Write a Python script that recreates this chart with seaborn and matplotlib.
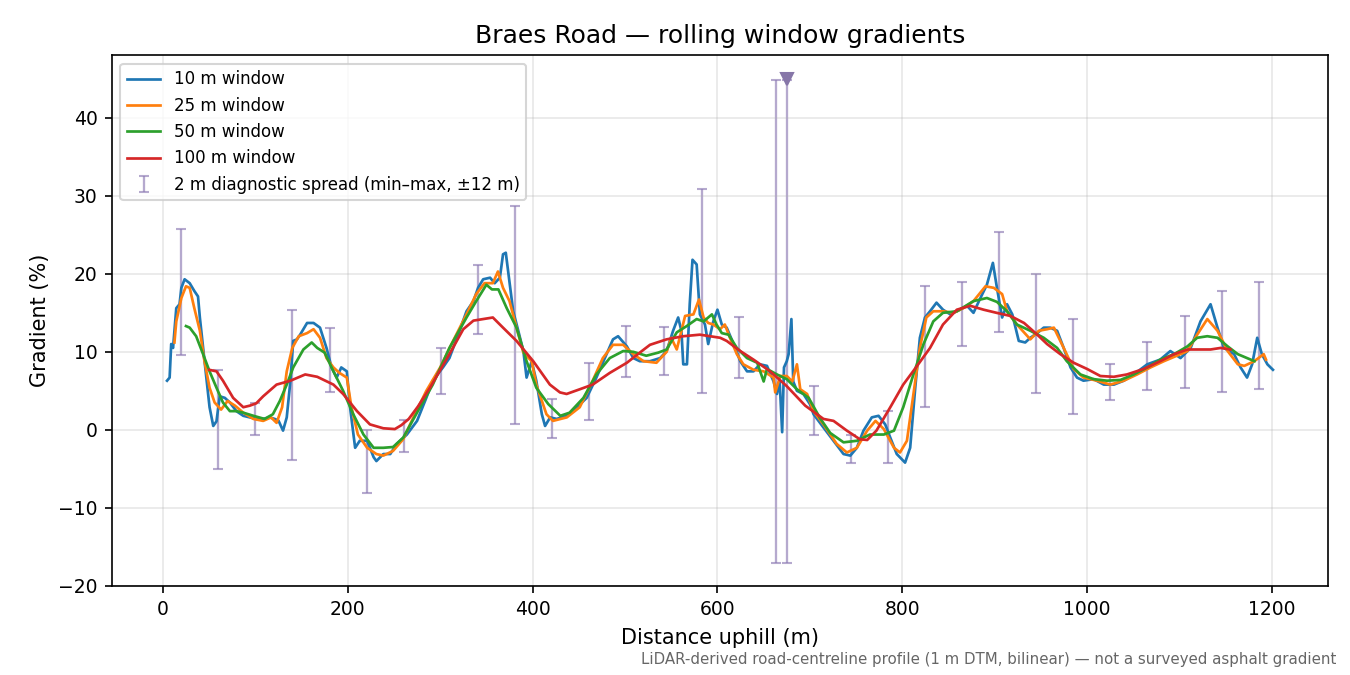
import matplotlib
matplotlib.use("Agg")
import matplotlib.pyplot as plt
import seaborn as sns
import pandas as pd

# ---------------- data ----------------
w10_x = [4.5, 7.3, 9, 11, 14.5, 18, 20, 23.5, 29, 34, 38, 40, 43.5, 47, 50.5, 54.5, 58, 61.5, 67, 72.5,
         79.5, 87, 94, 101, 108.5, 115.5, 121, 125, 130, 134, 138, 141, 145, 148.5, 156, 163, 170, 177,
         182.5, 188, 193, 199, 202.5, 208, 213, 221, 228, 231, 238.5, 246, 253, 264, 275, 285, 292, 303,
         310, 321, 328.5, 336, 341, 346.5, 354, 359, 364.6, 368, 371, 374, 379, 384.5, 390, 393.5, 399,
         404, 410, 413.5, 419, 426, 437, 448, 458.5, 469, 480, 487, 492.5, 502, 509, 516, 527, 538, 545,
         552, 557.5, 561, 563, 567, 570, 573, 577.5, 581, 586.5, 590, 595.5, 600, 604.7, 610, 617.5,
         624.7, 632, 639, 646, 653.6, 660.7, 664.4, 667.3, 670, 672, 675, 677, 680, 682, 686, 693, 700,
         704, 714.7, 725.6, 736.4, 743.8, 750.8, 758, 767, 774.3, 781.5, 787, 794, 803, 808.5, 814, 819,
         824.5, 830, 837, 844, 852, 859, 870, 877, 884.5, 891.5, 898, 902.4, 908, 913.3, 919, 926, 933,
         938.5, 946, 953, 960, 967.5, 974.6, 982, 989, 996, 1007, 1018, 1029, 1039.6, 1050.4, 1065, 1079,
         1090, 1101, 1112, 1122.6, 1133.5, 1141, 1148, 1159, 1166, 1173, 1178.5, 1184, 1189, 1195, 1201]
w10_y = [6.3, 6.7, 11.0, 10.5, 15.6, 16.1, 18.2, 19.3, 18.8, 17.8, 17.1, 14.4, 10.5, 6.7, 2.9, 0.5, 1.1, 4.3, 4.1, 3.5,
         2.4, 1.8, 1.6, 1.4, 1.4, 1.6, 1.4, 1.2, -0.1, 1.6, 6.3, 11.4, 11.6, 12.2, 13.7, 13.7, 13.1, 10.5,
         8.0, 6.7, 8.0, 7.5, 2.9, -2.3, -1.4, -1.4, -3.5, -4.0, -3.1, -3.1, -1.8, -0.6, 1.15, 4.1, 6.3, 8.0,
         9.2, 12.7, 15.2, 16.5, 18.2, 19.3, 19.5, 18.8, 19.5, 22.5, 22.7, 19.9, 15.2, 12.7, 10.1, 6.7, 8.8,
         6.3, 2.0, 0.5, 1.6, 1.4, 1.8, 2.9, 4.1, 6.7, 9.7, 11.6, 12.0, 10.7, 9.2, 8.8, 8.8, 9.2, 10.1,
         12.7, 14.4, 12.7, 8.4, 8.4, 16.1, 21.8, 21.2, 14.8, 13.5, 11.0, 13.9, 15.4, 13.5, 13.1, 11.0,
         8.8, 7.5, 7.5, 8.4, 8.2, 6.2, 4.6, 6.2, -0.3, 8.0, 8.8, 9.7, 14.2, 6.2, 5.0, 4.6, 3.3,
         2.0, 0.3, -1.4, -3.1, -3.3, -2.3, -0.1, 1.6, 1.8, 0.7, -1.0, -3.1, -4.2, -2.3, 5.4, 11.8,
         14.4, 15.2, 16.3, 15.4, 14.8, 15.2, 15.9, 15.0, 16.9, 18.6, 21.4, 18.2, 14.4, 16.1, 14.8, 11.4, 11.2,
         11.8, 12.4, 13.1, 13.1, 12.7, 10.5, 8.0, 6.7, 6.3, 6.5, 5.8, 5.8, 6.3, 7.1, 8.4, 9.0,
         10.1, 9.2, 10.5, 13.9, 16.1, 13.1, 10.5, 9.7, 8.0, 6.7, 8.4, 11.8, 9.7, 8.4, 7.7]

w25_x = [12.5, 14.5, 20, 25, 29, 34, 40, 45, 50.5, 56, 63, 70, 78, 87, 98, 108.5, 117, 123, 129, 134, 140,
         147, 156, 163, 170, 177, 184.5, 191, 199, 204, 211, 221, 231, 238.5, 249, 260, 271, 285, 300, 314,
         328.5, 339, 348, 357, 362.5, 368, 375, 382.6, 390, 399, 404, 415, 422, 437, 451, 465, 476, 487,
         498, 509, 520, 534, 545, 550, 556, 565, 574, 580, 585, 590, 595.5, 602.8, 608, 613.5, 621, 628,
         639, 650, 660.7, 662.5, 668, 675, 681, 686, 689.6, 697, 704, 714.7, 729, 740, 750.8, 762, 771,
         780, 791, 797.5, 805, 812, 819, 826, 833.5, 844, 855.5, 866, 877, 890, 899, 908, 913.3, 924,
         938.5, 947.7, 956.6, 964, 974.6, 985.4, 996, 1010.7, 1025, 1039.6, 1054, 1068.5, 1083, 1097,
         1108.5, 1119, 1130, 1141, 1152, 1163, 1170, 1180.8, 1191, 1193.5]
w25_y = [11.2, 13.9, 16.9, 18.4, 18.2, 15.6, 12.7, 8.8, 5.4, 3.5, 2.6, 3.7, 3.1, 2.2, 1.4, 1.15, 1.6, 0.9, 2.9, 7.5, 10.5,
         12.0, 12.4, 12.9, 11.8, 9.2, 8.0, 7.3, 6.7, 2.9, -0.6, -2.3, -3.1, -3.3, -2.7, -1.2, 1.6, 5.0, 8.0, 11.4,
         14.8, 17.4, 18.8, 18.8, 20.3, 18.2, 16.5, 13.1, 9.9, 8.8, 5.8, 2.0, 1.15, 1.6, 2.9, 6.3, 9.2, 10.9,
         10.9, 9.7, 8.8, 8.6, 10.0, 11.8, 10.3, 14.6, 14.8, 16.7, 14.4, 13.7, 13.5, 12.9, 13.5, 11.8, 9.7, 8.4,
         7.7, 7.5, 6.7, 4.8, 6.9, 6.9, 6.2, 8.4, 5.2, 4.6, 2.4, 0.7, -1.8, -2.9, -2.3, -0.1, 1.15,
         0.1, -2.3, -2.9, -1.4, 4.6, 10.5, 14.4, 15.2, 15.2, 15.0, 15.6, 16.5, 18.4, 18.2, 17.4, 15.2, 13.5,
         11.6, 12.7, 12.9, 13.1, 10.5, 7.8, 6.7, 6.3, 5.8, 6.3, 7.1, 8.0, 8.8, 9.5,
         10.1, 12.2, 14.2, 12.7, 10.1, 8.4, 8.2, 8.8, 9.7, 9.0]

w50_x = [25, 29, 36, 43.5, 50.5, 58, 65, 72.5, 79.5, 87, 98, 110, 119, 126.5, 134, 141, 152, 161, 167, 175,
         184.5, 195, 206, 217, 228, 238.5, 249, 260, 274, 292, 310, 328.5, 339, 350, 356, 363, 372, 382.6,
         393.5, 404, 417, 430, 440, 455, 469, 483.5, 498, 509, 523, 536, 545, 556, 566.7, 577.5, 585, 594,
         599, 604.7, 612, 621, 632, 643, 650, 653.6, 664.4, 675, 686, 698.7, 711, 722, 736.4, 750.8, 765,
         780, 791, 801, 812, 823, 833.5, 844, 859, 877, 891.5, 902.4, 913.3, 924, 938.5, 953, 967.5, 978,
         992.7, 1007, 1021.5, 1036, 1050.4, 1065, 1079, 1094, 1108.5, 1119, 1130, 1141, 1152, 1163, 1173, 1181]
w50_y = [13.3, 13.1, 12.0, 9.7, 7.5, 5.4, 3.5, 2.4, 2.4, 2.2, 1.8, 1.4, 2.0, 3.7, 5.8, 8.0, 10.3, 11.2, 10.5, 9.9,
         7.5, 5.0, 2.0, -0.6, -2.3, -2.3, -2.2, -1.0, 2.0, 5.8, 10.5, 14.4, 16.5, 18.6, 18.0, 18.0, 15.6, 13.1,
         8.8, 5.4, 3.3, 1.8, 2.2, 4.1, 7.1, 9.2, 10.1, 10.0, 9.5, 9.9, 10.3, 12.5, 13.3, 14.2, 13.9, 14.8,
         13.5, 12.4, 12.2, 10.5, 9.2, 8.6, 6.2, 7.8, 7.1, 6.5, 5.2, 4.1, 1.5, -0.4, -1.6, -1.4, -0.6,
         -0.6, -0.1, 2.9, 7.1, 11.0, 13.9, 15.0, 15.2, 16.5, 16.9, 16.4, 15.2, 13.5, 12.7, 11.8, 10.5, 8.8,
         7.1, 6.5, 6.3, 6.4, 7.1, 8.0, 9.0, 9.7, 10.7, 11.8, 12.0, 11.8, 10.7, 9.7, 9.2, 8.8]

w100_x = [50, 58, 65, 76, 87, 94, 101, 108.5, 123, 138, 154, 167, 184.5, 195, 210, 224, 238.5, 251, 258, 266,
          276, 289, 310, 325, 336, 346.5, 357, 368, 382.6, 400.7, 418.7, 429.6, 436.8, 451, 465, 483.5,
          502, 516, 527, 545, 563, 581, 592, 603, 610, 624.7, 639, 657, 675, 695, 714.7, 725.6, 740, 754,
          762, 772, 787, 801, 816, 830, 844, 859, 873.5, 888, 902, 917, 931.7, 946, 956.6, 971, 985.4,
          1000, 1014.3, 1028.8, 1043, 1061, 1079, 1094, 1108.5, 1122.6, 1133.5, 1144.4, 1155]
w100_y = [7.7, 7.5, 6.3, 4.1, 2.9, 3.1, 3.4, 4.3, 5.8, 6.3, 7.1, 6.8, 5.8, 4.6, 2.4, 0.7, 0.2, 0.1, 0.6, 1.4,
          3.0, 5.4, 9.7, 12.9, 14.0, 14.2, 14.4, 13.1, 11.4, 8.8, 5.8, 4.8, 4.6, 5.2, 5.8, 7.3,
          8.6, 9.9, 10.9, 11.6, 12.0, 12.2, 12.0, 11.8, 11.4, 10.1, 9.0, 7.5, 5.6, 3.1, 1.4, 1.15, -0.1, -1.2,
          -1.3, -0.1, 2.9, 5.8, 8.2, 10.5, 13.5, 15.4, 15.9, 15.4, 15.0, 14.6, 13.7, 12.2, 11.0, 9.7, 8.6,
          7.8, 6.9, 6.8, 7.1, 7.8, 8.8, 9.7, 10.3, 10.3, 10.3, 10.5, 10.3]

spread_x = [20, 60, 100, 140, 181, 221, 261, 301, 341, 381, 421, 461, 501, 542, 583, 623, 663, 675,
            704, 744, 784, 825, 865, 905, 945, 985, 1025, 1065, 1106, 1146, 1186]
spread_lo = [9.6, -5.0, -0.6, -3.9, 4.9, -8.1, -2.8, 4.6, 12.3, 0.7, -1.0, 1.3, 6.8, 7.0, 4.7, 6.6, -17.1, -17.1,
             -0.6, -4.3, -4.3, 2.9, 10.7, 12.6, 4.7, 2.0, 3.8, 5.1, 5.4, 4.9, 5.3]
spread_hi = [25.8, 7.7, 3.4, 15.4, 13.1, 0.0, 1.3, 10.5, 21.1, 28.7, 3.9, 8.6, 13.3, 13.2, 30.9, 14.5, 44.9, 44.9,
             5.6, -0.7, 2.4, 18.5, 19.0, 25.4, 20.0, 14.2, 8.5, 11.2, 14.6, 17.8, 18.9]
clip_x = [675]
clip_y = [45.0]

series_labels = ["10 m window", "25 m window", "50 m window", "100 m window"]
spread_label = "2 m diagnostic spread (min\u2013max, \u00b112 m)"
title = "Braes Road \u2014 rolling window gradients"
xlabel = "Distance uphill (m)"
ylabel = "Gradient (%)"
footnote = "LiDAR-derived road-centreline profile (1 m DTM, bilinear) \u2014 not a surveyed asphalt gradient"

# ---------------- plotting ----------------
plt.rcParams['font.family'] = ['DejaVu Sans']
fig = plt.figure(figsize=(9, 4.5), dpi=150)
ax = fig.add_axes([0.083, 0.132, 0.901, 0.786])

colors = ['#1f77b4', '#ff7f0e', '#2ca02c', '#d62728']
xs = [w10_x, w25_x, w50_x, w100_x]
ys = [w10_y, w25_y, w50_y, w100_y]
for x, y, c, lab in zip(xs, ys, colors, series_labels):
    df = pd.DataFrame({"d": x, "g": y})
    sns.lineplot(data=df, x="d", y="g", ax=ax, color=c, linewidth=1.3, label=lab,
                 sort=False, estimator=None)

mid = [(a + b) / 2 for a, b in zip(spread_lo, spread_hi)]
half = [(b - a) / 2 for a, b in zip(spread_lo, spread_hi)]
ax.errorbar(spread_x, mid, yerr=half, fmt='none', ecolor='#8e7cb4', alpha=0.65,
            elinewidth=1.1, capsize=2.5, capthick=1.0, label=spread_label, zorder=1)
ax.plot(clip_x, clip_y, marker='v', linestyle='none', color='#8676a8', markersize=5.5, zorder=3)

h, l = ax.get_legend_handles_labels()
order = [l.index(s) for s in series_labels] + [l.index(spread_label)]
ax.legend([h[i] for i in order], [l[i] for i in order], loc='upper left', fontsize=8)

ax.set_xlim(-55, 1261)
ax.set_ylim(-20, 48)
ax.set_yticks([-20, -10, 0, 10, 20, 30, 40])
ax.set_xticks([0, 200, 400, 600, 800, 1000, 1200])
ax.grid(True, alpha=0.3)
ax.set_title(title, fontsize=12)
ax.set_xlabel(xlabel, fontsize=10)
ax.set_ylabel(ylabel, fontsize=10)
ax.tick_params(labelsize=9)
fig.text(0.99, 0.012, footnote, ha='right', va='bottom', fontsize=7.2, color='#666666')

fig.savefig("out.png", dpi=150)
